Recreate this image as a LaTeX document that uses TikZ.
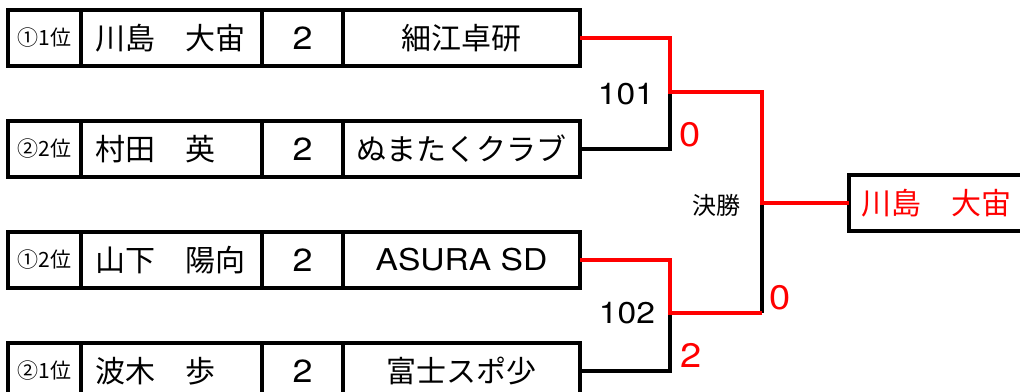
\documentclass[tikz,border=0pt]{standalone}
\usepackage{fontspec}
\setmainfont{Noto Sans CJK JP}
\newfontfamily\latw[FakeStretch=1.12]{TeX Gyre Heros}
\begin{document}
\begin{tikzpicture}[x=1pt,y=-1pt,
  cell/.style={draw, line width=3.5pt, minimum height=56pt, anchor=north west, inner sep=0pt, outer sep=0pt},
  rank/.style={font=\fontsize{21}{23}\selectfont},
  pname/.style={font=\fontsize{30}{32}\selectfont, anchor=west, inner sep=0pt},
  big/.style={font=\fontsize{30}{32}\selectfont},
  lbl/.style={font=\fontsize{24}{26}\selectfont, inner sep=0pt},
  numlbl/.style={font=\latw\fontsize{30}{32}\selectfont, inner sep=0pt},
  redlbl/.style={font=\latw\fontsize{34}{36}\selectfont, text=red, inner sep=0pt},
  bline/.style={line width=3.5pt, black},
  rline/.style={line width=4.5pt, red}]
\useasboundingbox (0,0) rectangle (1020,391);
\clip (0,0) rectangle (1020,391);
\fill[white] (0,0) rectangle (1020,391);
% rows
\foreach \r/\y/\rk/\nm/\cl in {1/10/①1位/川島　大宙/細江卓研, 2/121/②2位/村田　英/ぬまたくクラブ, 3/232/①2位/山下　陽向/{\latw ASURA SD}, 4/343/②1位/波木　歩/富士スポ少}{
  \node[cell, minimum width=73pt] (r\r a) at (8,\y) {};
  \node[cell, minimum width=181pt] (r\r b) at (81,\y) {};
  \node[cell, minimum width=81pt] (r\r c) at (262,\y) {};
  \node[cell, minimum width=237pt] (r\r d) at (343,\y) {};
  \node[rank] at (r\r a.center) {\rk};
  \node[pname] at ([xshift=14pt]r\r b.west) {\nm};
  \node[big] at (r\r c.center) {\latw\fontsize{32}{34}\selectfont 2};
  \node[big] at (r\r d.center) {\cl};
}
% final box
\node[cell, minimum width=190pt] (fin) at (849,175) {};
\node[pname, text=red] at ([xshift=12pt]fin.west) {川島　大宙};
% junctions
\coordinate (m1) at (670,92);
\coordinate (m2) at (670,313);
\coordinate (fm) at (762,203);
\coordinate (m2b) at (762,313);
% black lines
\draw[bline] (r2d.east) -| (m1);
\draw[bline] (r4d.east) -| (m2);
\draw[bline] (fm) -- (m2b);
% red lines
\draw[rline, line join=miter] (r1d.east) -| (m1) -| (fm) -- (fin.west);
\draw[rline, line join=miter] (r3d.east) -| (m2) -- (m2b);
% labels
\node[numlbl] (l101) at (626,94) {101};
\node[numlbl] (l102) at (627,313) {102};
\node[lbl] (lfin) at (716,205) {決勝};
\node[redlbl] (s1) at (690,135) {0};
\node[redlbl] (s2) at (691,355) {2};
\node[redlbl] (s3) at (780,298) {0};
\end{tikzpicture}
\end{document}
